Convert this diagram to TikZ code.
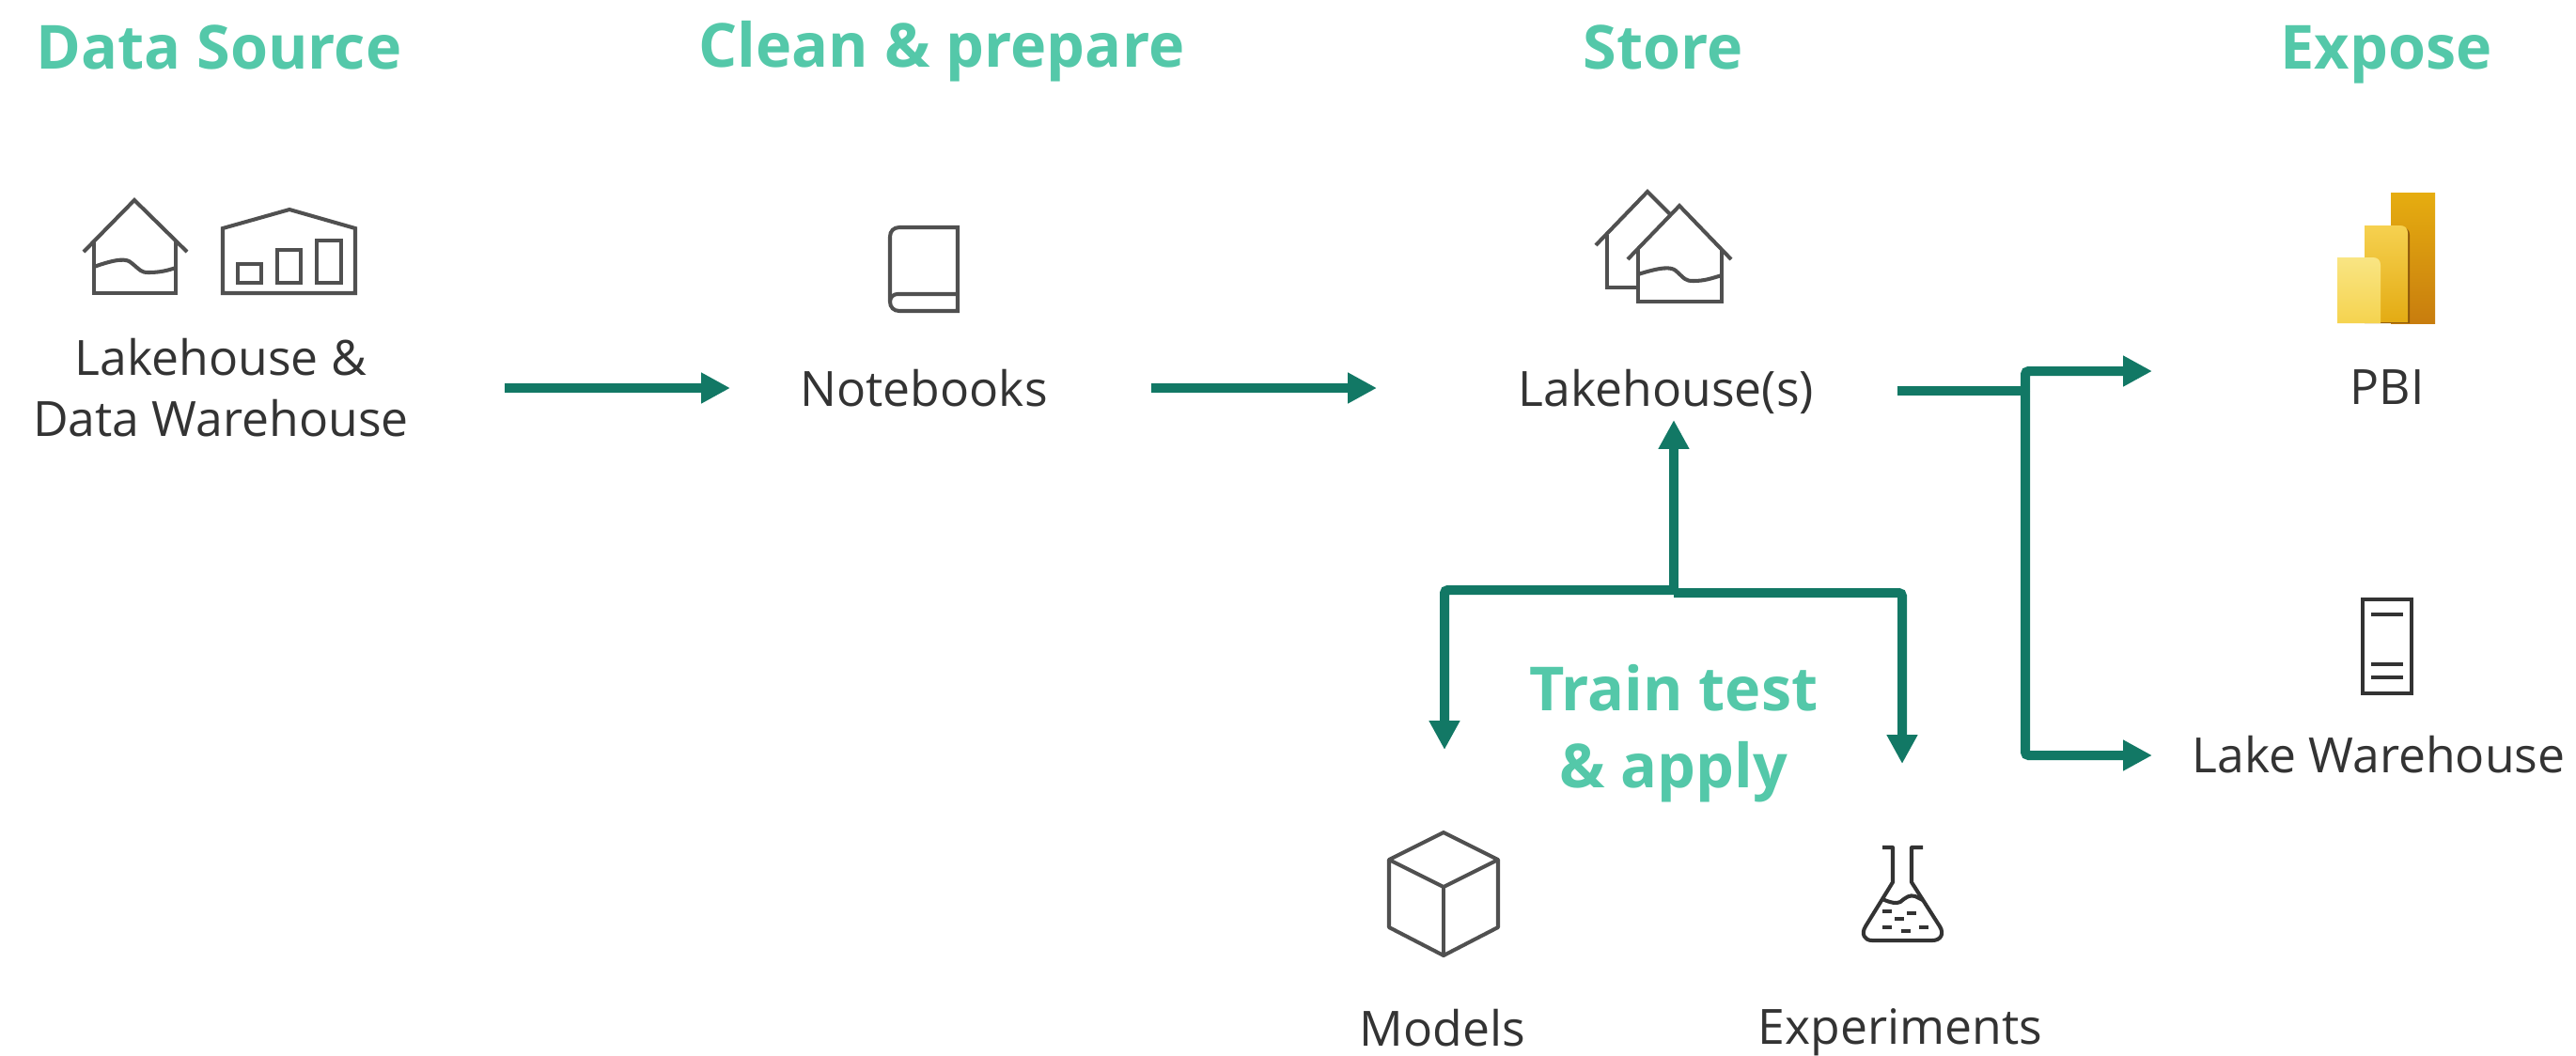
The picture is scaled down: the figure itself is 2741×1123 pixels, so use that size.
\documentclass[tikz,border=0pt]{standalone}
\usepackage{fontspec}
\setmainfont{Open Sans}
\usetikzlibrary{arrows.meta}

\definecolor{mint}{HTML}{54C8A9}
\definecolor{flowgreen}{HTML}{127865}
\definecolor{labelgrey}{HTML}{333333}
\definecolor{icongrey}{HTML}{505050}
\definecolor{barbacktop}{HTML}{E6AD10}
\definecolor{barbackend}{HTML}{C87D0E}
\definecolor{barmidtop}{HTML}{F6D150}
\definecolor{barmidend}{HTML}{E3AB13}
\definecolor{barfronttop}{HTML}{F9E583}
\definecolor{barfrontend}{HTML}{F5D34F}

\tikzset{
  title/.style={text=mint, inner sep=0pt, align=center, font=\fontsize{18.4}{23.4}\selectfont\bfseries},
  label/.style={text=labelgrey, inner sep=0pt, align=center, font=\fontsize{14.7}{18.5}\selectfont},
  flow/.style={draw=flowgreen, line width=2.85pt, -{Triangle[length=8.8pt, width=8.8pt]}},
  icon/.style={draw=icongrey, line width=1.15pt},
  darkicon/.style={draw=labelgrey, line width=1.15pt},
}

\begin{document}
\begin{tikzpicture}[x=0.01cm, y=-0.01cm]
    \useasboundingbox (0, 0) rectangle (2741, 1123);

    % Headings
    \node[title] at (233, 50) (source) {Data Source};
    \node[title] at (1002, 55) (prepare) {Clean \& prepare};
    \node[title] at (1770, 50) (store) {Store};
    \node[title] at (2539, 58) (expose) {Expose};
    \node[title] at (1781, 781) (train) {Train test\\\& apply};

    % Labels
    \node[label] at (235, 413) (warehouse) {Lakehouse \&\\Data Warehouse};
    \node[label] at (983, 413) (notebooks) {Notebooks};
    \node[label] at (1773, 417) (lakehouse) {Lakehouse(s)};
    \node[label] at (2540, 412) (pbi) {PBI};
    \node[label] at (2531, 803) (lake) {Lake Warehouse};
    \node[label] at (1535, 1094) (models) {Models};
    \node[label] at (2022, 1099) (experiments) {Experiments};

    % Arrow ends
    \coordinate (sourceout) at (537, 413);
    \coordinate (notebooksin) at (777, 413);
    \coordinate (notebooksout) at (1225, 413);
    \coordinate (lakehousein) at (1465, 413);
    \coordinate (forkup) at (1781, 628);
    \coordinate (forkdown) at (1781, 631);
    \coordinate (lakehouseup) at (1781, 447);
    \coordinate (modelsin) at (1537, 798);
    \coordinate (experimentsin) at (2024, 813);
    \coordinate (lakehouseout) at (2019, 416);
    \coordinate (fork) at (2155, 416);
    \coordinate (pbiin) at (2290, 395);
    \coordinate (lakein) at (2290, 804);

    % Arrows
    \draw[flow] (sourceout) -- (notebooksin);
    \draw[flow] (notebooksout) -- (lakehousein);
    \draw[flow] (forkup) -- (lakehouseup);
    \draw[flow, rounded corners=1pt] (forkup) -| (modelsin);
    \draw[flow, rounded corners=1pt] (forkdown) -| (experimentsin);
    \draw[flow, -] (lakehouseout) -- (fork);
    \draw[flow, rounded corners=1pt] (fork) |- (pbiin);
    \draw[flow, rounded corners=1pt] (fork) |- (lakein);

    % Lakehouse icon
    \draw[icon] (89, 268) -- (143, 213) -- (199, 268);
    \draw[icon] (100, 257) -- (100, 312) -- (187, 312) -- (187, 257);
    \draw[icon] (100, 284) .. controls (125, 275) and (135, 275) .. (140, 280) .. controls (150, 288) and (150, 290) .. (158, 290) .. controls (170, 290) and (178, 288) .. (187, 285);

    % Warehouse icon
    \draw[icon] (237, 312) -- (237, 243) -- (308, 223) -- (378, 243) -- (378, 312) -- cycle;
    \draw[icon] (253, 281) rectangle (278, 301);
    \draw[icon] (295, 266) rectangle (320, 301);
    \draw[icon] (337, 256) rectangle (363, 301);

    % Book icon
    \draw[icon] (1019, 242) -- (957, 242) .. controls (951, 242) and (947, 246) .. (947, 252) -- (947, 321) .. controls (947, 327) and (951, 331) .. (957, 331) -- (1019, 331) -- cycle;
    \draw[icon] (947, 321) .. controls (947, 316) and (951, 313) .. (955, 313) -- (1019, 313);

    % Lakehouse(s) icon
    \draw[icon] (1698, 261) -- (1753, 204) -- (1777, 228);
    \draw[icon] (1710, 250) -- (1710, 306) -- (1743, 306);
    \draw[icon] (1732, 276) -- (1787, 219) -- (1842, 276);
    \draw[icon] (1743, 265) -- (1743, 321) -- (1832, 321) -- (1832, 265);
    \draw[icon] (1743, 292) .. controls (1768, 284) and (1778, 284) .. (1783, 288) .. controls (1793, 297) and (1793, 299) .. (1802, 299) .. controls (1814, 299) and (1822, 296) .. (1832, 293);

    % PBI icon
    \shade[top color=barbacktop, bottom color=barbackend] (2544, 205) rectangle (2591, 344);
    \fill[barbackend!70!black] (2516, 344) -- (2516, 242) -- (2556, 242) .. controls (2561, 242) and (2564, 245) .. (2564, 250) -- (2564, 344) -- cycle;
    \shade[top color=barmidtop, bottom color=barmidend] (2516, 343) -- (2516, 240) -- (2554, 240) .. controls (2559, 240) and (2562, 243) .. (2562, 248) -- (2562, 343) -- cycle;
    \shade[top color=barfronttop, bottom color=barfrontend] (2487, 344) -- (2487, 274) -- (2525, 274) .. controls (2530, 274) and (2533, 277) .. (2533, 282) -- (2533, 344) -- cycle;

    % Server icon
    \draw[darkicon] (2514, 638) rectangle (2566, 738);
    \draw[darkicon] (2523, 654) -- (2557, 654);
    \draw[darkicon] (2523, 707) -- (2557, 707);
    \draw[darkicon] (2523, 721) -- (2557, 721);

    % Cube icon
    \draw[icon, line join=round] (1536, 886) -- (1478, 915) -- (1478, 987) -- (1536, 1017) -- (1594, 987) -- (1594, 915) -- cycle;
    \draw[icon, line join=round] (1478, 915) -- (1536, 944) -- (1594, 915);
    \draw[icon] (1536, 944) -- (1536, 1017);

    % Flask icon
    \draw[darkicon, line join=round] (2003, 902) -- (2014, 902) -- (2014, 939) -- (1985, 986) .. controls (1980, 994) and (1984, 1001) .. (1992, 1001) -- (2056, 1001) .. controls (2065, 1001) and (2069, 994) .. (2064, 986) -- (2034, 939) -- (2034, 902) -- (2046, 902);
    \draw[darkicon] (2003, 957) .. controls (2012, 961) and (2018, 962) .. (2022, 960) .. controls (2028, 955) and (2032, 952) .. (2038, 954) -- (2046, 958);
    \foreach \dx/\dy in {2003/970, 2029/972, 2016/978, 2003/987, 2023/991, 2042/987} {
      \draw[darkicon] (\dx, \dy) -- +(10, 0);
    }
\end{tikzpicture}
\end{document}
